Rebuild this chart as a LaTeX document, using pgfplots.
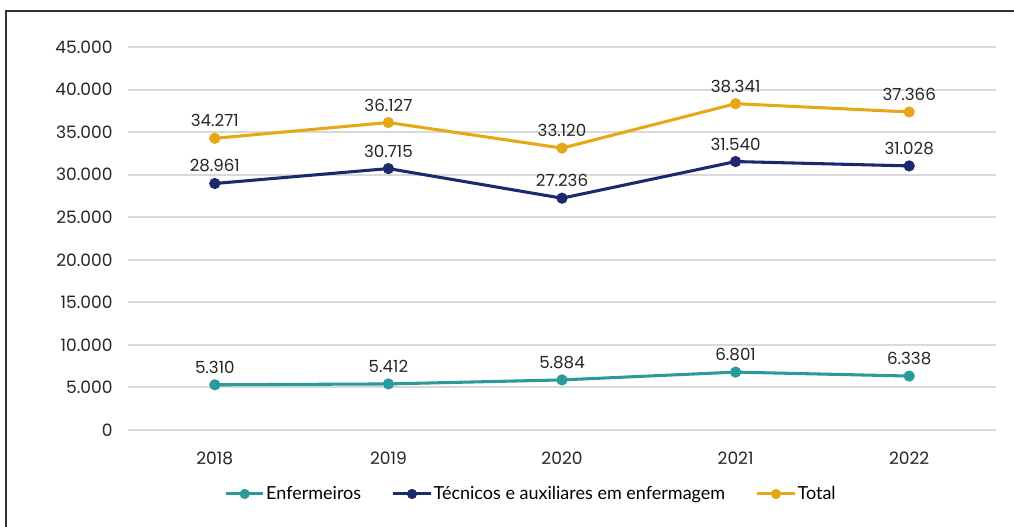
\documentclass[border=0pt]{standalone}
\usepackage{pgfplots}
\pgfplotsset{compat=1.18}
\usepackage{fontspec}
\setmainfont{Poppins}
\newfontfamily\legfont{Lato}
\definecolor{cteal}{HTML}{2A9A9A}
\definecolor{cnavy}{HTML}{1A2A6C}
\definecolor{cgold}{HTML}{E6A817}
\definecolor{cgrid}{HTML}{D9D9D9}
\begin{document}
\begin{tikzpicture}
\useasboundingbox (0,0) rectangle (760.5pt,395.25pt);
\draw[line width=0.9pt, black!80] (4.5pt,0) -- (4.5pt,387pt) -- (760.5pt,387pt);
\begin{axis}[
  at={(96pt,72.75pt)}, anchor=south west,
  scale only axis, width=651pt, height=287.25pt,
  xmin=-0.5, xmax=4.5, ymin=0, ymax=45000,
  xtick={0,1,2,3,4}, xticklabels={2018,2019,2020,2021,2022},
  ytick={0,5000,10000,15000,20000,25000,30000,35000,40000,45000},
  axis line style={draw=none}, tick style={draw=none},
  ymajorgrids, grid style={cgrid, line width=1.5pt},
  scaled y ticks=false,
  /pgf/number format/.cd, 1000 sep={.}, assume math mode=true,
  /pgfplots/.cd,
  ticklabel style={font=\fontsize{12.8}{14}\selectfont, text=black!85},
  yticklabel style={xshift=-8pt},
  xticklabel style={yshift=-13pt},
  every axis plot/.append style={line width=2.3pt, mark=*, mark size=3pt},
  nodes near coords, 
  every node near coord/.append style={font=\fontsize{12.5}{14}\selectfont, text=black!85, anchor=south, yshift=4pt,
    /pgf/number format/.cd, 1000 sep={.}, assume math mode=true},
  legend columns=3,
  legend style={at={(0.464,-0.167)}, anchor=center, draw=none, fill=none,
    font=\legfont\fontsize{13.5}{15}\selectfont, column sep=0pt,
    /tikz/column 2/.style={column sep=22pt}, /tikz/column 4/.style={column sep=22pt},
    nodes={inner sep=1pt}},
  legend image code/.code={\draw[#1, line width=2.3pt] (0pt,0pt) -- (28pt,0pt); \fill[#1] (14pt,0pt) circle (2.6pt);},
]
\addplot[cteal, mark options={fill=cteal}] coordinates {(0,5310) (1,5412) (2,5884) (3,6801) (4,6338)};
\addlegendentry{Enfermeiros}
\addplot[cnavy, mark options={fill=cnavy}] coordinates {(0,28961) (1,30715) (2,27236) (3,31540) (4,31028)};
\addlegendentry{Técnicos e auxiliares em enfermagem}
\addplot[cgold, mark options={fill=cgold}] coordinates {(0,34271) (1,36127) (2,33120) (3,38341) (4,37366)};
\addlegendentry{Total}
\end{axis}
\end{tikzpicture}
\end{document}
